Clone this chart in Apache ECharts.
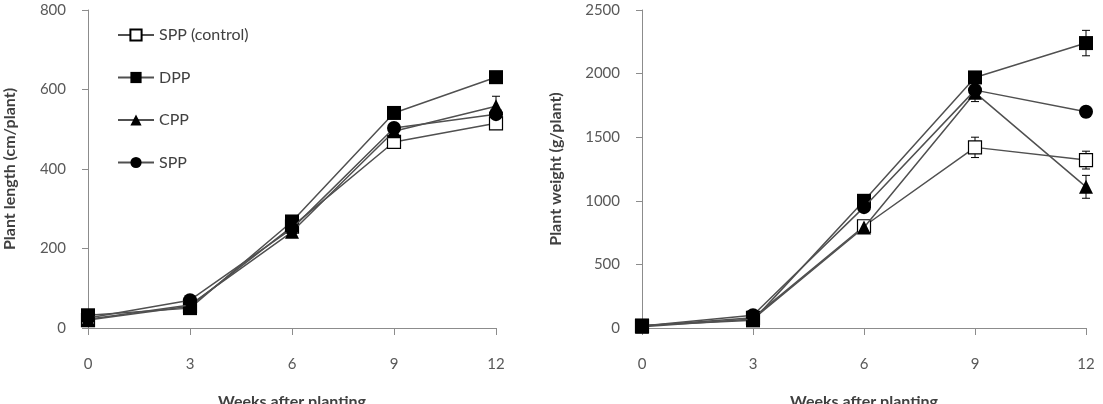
<!DOCTYPE html>
<html>
<head>
<meta charset="utf-8">
<script src="https://cdn.jsdelivr.net/npm/echarts@6/dist/echarts.min.js"></script>
<style>html,body{margin:0;padding:0;background:#fff}#c{width:1103px;height:404px}</style>
</head>
<body>
<div id="c"></div>
<script>
var weeks = [0, 3, 6, 9, 12];
var seriesNames = ['SPP (control)', 'DPP', 'CPP', 'SPP'];
var xTicks = [0, 3, 6, 9, 12];

// Plant length (cm/plant)
var lengthControl = [20, 55, 255, 468, 515];
var lengthDPP     = [32, 50, 268, 541, 631];
var lengthCPP     = [22, 58, 242, 495, 558];
var lengthSPP     = [25, 70, 250, 503, 538];
var lengthErrControl = [2, 3, 5, 8, 8];
var lengthErrDPP     = [2, 3, 5, 8, 10];
var lengthErrCPP     = [2, 3, 5, 8, 25];
var lengthErrSPP     = [2, 3, 5, 8, 10];

// Plant weight (g/plant)
var weightControl = [15, 80, 800, 1420, 1320];
var weightDPP     = [20, 60, 1000, 1970, 2240];
var weightCPP     = [10, 70, 790, 1850, 1110];
var weightSPP     = [15, 100, 950, 1870, 1700];
var weightErrControl = [5, 10, 30, 80, 70];
var weightErrDPP     = [5, 10, 30, 40, 100];
var weightErrCPP     = [5, 10, 30, 70, 90];
var weightErrSPP     = [5, 10, 30, 60, 40];

var symbols = ['rect', 'rect', 'triangle', 'circle'];
var fills = ['#ffffff', '#000000', '#000000', '#000000'];
var sizes = [13, 14, 14, 14];

var FONT = 'Lato';
var AXIS_COLOR = '#8c8c8c';
var LABEL_COLOR = '#595959';
var TITLE_COLOR = '#404040';

function pairs(vals) { return weeks.map(function (w, i) { return [w, vals[i]]; }); }
function errData(vals, errs) { return weeks.map(function (w, i) { return [w, vals[i] - errs[i], vals[i] + errs[i]]; }); }

function errSeries(idx, vals, errs) {
  return {
    type: 'custom', xAxisIndex: idx, yAxisIndex: idx, z: 1, silent: true,
    data: errData(vals, errs),
    renderItem: function (params, api) {
      var x = api.value(0);
      var lo = api.coord([x, api.value(1)]);
      var hi = api.coord([x, api.value(2)]);
      var cw = 4;
      var st = { stroke: '#000', lineWidth: 1 };
      return { type: 'group', children: [
        { type: 'line', shape: { x1: lo[0], y1: lo[1], x2: hi[0], y2: hi[1] }, style: st },
        { type: 'line', shape: { x1: lo[0] - cw, y1: lo[1], x2: lo[0] + cw, y2: lo[1] }, style: st },
        { type: 'line', shape: { x1: hi[0] - cw, y1: hi[1], x2: hi[0] + cw, y2: hi[1] }, style: st }
      ]};
    }
  };
}

function lineSeries(idx, k, vals) {
  return {
    name: seriesNames[k], type: 'line', xAxisIndex: idx, yAxisIndex: idx, z: 2 + k,
    data: pairs(vals), symbol: symbols[k], symbolSize: sizes[k], showAllSymbol: true,
    lineStyle: { color: '#505050', width: 1.5 },
    itemStyle: { color: fills[k], borderColor: '#000', borderWidth: k === 0 ? 1.2 : 0, opacity: 1 },
    emphasis: { disabled: true }
  };
}

function xAxis(idx) {
  return {
    type: 'value', gridIndex: idx, min: 0, max: 12, interval: 3,
    name: 'Weeks after planting', nameLocation: 'middle', nameGap: 66,
    nameTextStyle: { fontFamily: FONT, fontSize: 16, fontWeight: 'bold', color: TITLE_COLOR },
    axisLine: { show: true, lineStyle: { color: AXIS_COLOR, width: 1 } },
    axisTick: { show: true, length: 7, lineStyle: { color: AXIS_COLOR } },
    axisLabel: { margin: 29, fontFamily: FONT, fontSize: 15, color: LABEL_COLOR, verticalAlign: 'top',
      formatter: function (v) { return xTicks.indexOf(v) >= 0 ? String(v) : ''; } },
    splitLine: { show: false }
  };
}

function yAxis(idx, max, interval, name, gap) {
  return {
    type: 'value', gridIndex: idx, min: 0, max: max, interval: interval,
    name: name, nameLocation: 'middle', nameGap: gap, nameRotate: 90,
    nameTextStyle: { fontFamily: FONT, fontSize: 16, fontWeight: 'bold', color: TITLE_COLOR },
    axisLine: { show: true, lineStyle: { color: AXIS_COLOR, width: 1 } },
    axisTick: { show: true, length: 6, lineStyle: { color: AXIS_COLOR } },
    axisLabel: { margin: 22, fontFamily: FONT, fontSize: 15, color: LABEL_COLOR,
      formatter: function (v) { return String(v); } },
    splitLine: { show: false }
  };
}

var chart = echarts.init(document.getElementById('c'), null, { renderer: 'canvas' });
var lengthVals = [lengthControl, lengthDPP, lengthCPP, lengthSPP];
var lengthErrs = [lengthErrControl, lengthErrDPP, lengthErrCPP, lengthErrSPP];
var weightVals = [weightControl, weightDPP, weightCPP, weightSPP];
var weightErrs = [weightErrControl, weightErrDPP, weightErrCPP, weightErrSPP];

var series = [];
for (var k = 0; k < 4; k++) {
  series.push(errSeries(0, lengthVals[k], lengthErrs[k]));
  series.push(errSeries(1, weightVals[k], weightErrs[k]));
}
for (var k2 = 0; k2 < 4; k2++) {
  series.push(lineSeries(0, k2, lengthVals[k2]));
  series.push(lineSeries(1, k2, weightVals[k2]));
}

chart.setOption({
  animation: false,
  backgroundColor: '#ffffff',
  grid: [
    { left: 88, right: 607, top: 10, bottom: 76, containLabel: false, outerBoundsMode: 'none' },
    { left: 642, right: 17, top: 10, bottom: 76, containLabel: false, outerBoundsMode: 'none' }
  ],
  xAxis: [xAxis(0), xAxis(1)],
  yAxis: [
    yAxis(0, 800, 200, 'Plant length (cm/plant)', 70),
    yAxis(1, 2500, 500, 'Plant weight (g/plant)', 78)
  ],
  legend: {
    data: seriesNames, orient: 'vertical', left: 112, top: 22,
    itemWidth: 36, itemHeight: 14, itemGap: 26.5,
    textStyle: { fontFamily: FONT, fontSize: 16, color: TITLE_COLOR },
    selectedMode: false
  },
  series: series
});
</script>
</body>
</html>
